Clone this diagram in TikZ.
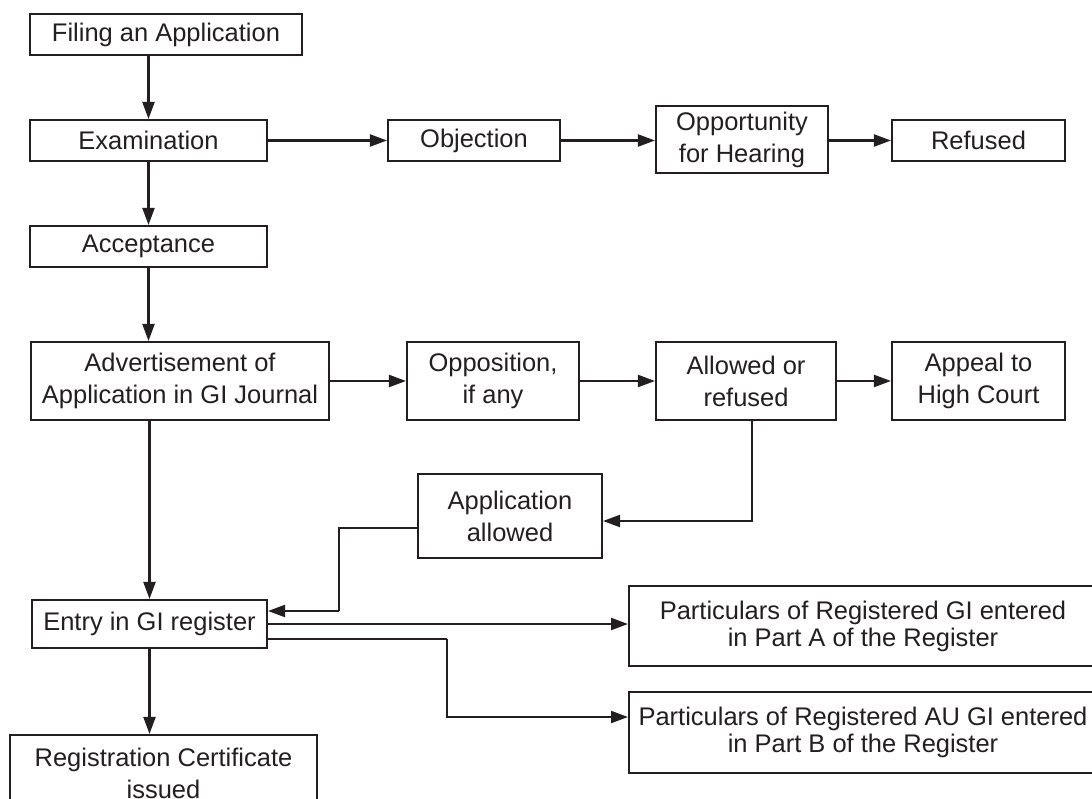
\documentclass[tikz,border=0pt]{standalone}
\usepackage{fontspec}
\setmainfont{Liberation Sans}
\usepackage{tikz}
\usetikzlibrary{arrows.meta}
\usetikzlibrary{positioning}
\usetikzlibrary{calc}
\definecolor{ink}{HTML}{231F20}
\tikzset{
	box/.style={draw=ink, text=ink, line width=1.2pt, align=center, inner sep=0pt, font=\fontsize{14.5}{18.2}\selectfont},
	wide/.style={box, font=\fontsize{14.5}{15.4}\selectfont},
	arr/.style={draw=ink, line width=1.2pt, -{Triangle[length=0.34cm, width=0.24cm]}},
	lin/.style={draw=ink, line width=1.2pt}
}

\begin{document}
\begin{tikzpicture}[x=0.02cm, y=-0.02cm]
	\useasboundingbox (0,0) rectangle (1092,798);
	\node[box, minimum width=5.44cm, minimum height=0.82cm] (filing) at (166,34.5) {Filing an Application};
	\node[box, minimum width=4.74cm, minimum height=0.82cm] (exam) at (148.5,140.5) {Examination};
	\node[box, minimum width=3.44cm, minimum height=0.82cm] (objection) at (474,140.5) {Objection};
	\node[box, minimum width=3.44cm, minimum height=1.34cm] (hearing) at (742,139.5) {Opportunity\\for Hearing};
	\node[box, minimum width=3.46cm, minimum height=0.82cm] (refused) at (978.5,140.5) {Refused};
	\node[box, minimum width=4.74cm, minimum height=0.82cm] (accept) at (148.5,246.5) {Acceptance};
	\node[box, minimum width=5.96cm, minimum height=1.56cm] (advert) at (180,381) {Advertisement of\\Application in GI Journal};
	\node[box, minimum width=3.44cm, minimum height=1.56cm] (opposition) at (493,381) {Opposition,\\if any};
	\node[box, minimum width=3.6cm, minimum height=1.56cm] (allowed) at (746,381) {Allowed or\\refused};
	\node[box, minimum width=3.46cm, minimum height=1.56cm] (appeal) at (978.5,381) {Appeal to\\High Court};
	\node[box, minimum width=3.68cm, minimum height=1.68cm] (appallowed) at (510,516) {Application\\allowed};
	\node[box, minimum width=4.7cm, minimum height=0.96cm] (entry) at (149.5,624) {Entry in GI register};
	\node[wide, minimum width=9.36cm, minimum height=1.6cm] (parta) at (863,626) {Particulars of Registered GI entered\\in Part A of the Register};
	\node[wide, minimum width=9.36cm, minimum height=1.62cm] (partb) at (863,732.5) {Particulars of Registered AU GI entered\\in Part B of the Register};
	\node[box, minimum width=6.14cm, minimum height=1.52cm] (certif) at (163.5,773) {Registration Certificate\\issued};
	\coordinate (back) at (339,611);
	\coordinate (split) at (447,639);
	\draw[arr] (filing.south -| exam.north) -- (exam.north);
	\draw[arr] (exam.south) -- (accept.north);
	\draw[arr] (accept.south) -- (accept.south |- advert.north);
	\draw[arr] (advert.south -| entry.north) -- (entry.north);
	\draw[arr] (entry.south) -- (entry.south |- certif.north);
	\draw[arr] (exam.east) -- (objection.west);
	\draw[arr] (objection.east) -- (objection.east -| hearing.west);
	\draw[arr] (refused.west -| hearing.east) -- (refused.west);
	\draw[arr] (advert.east) -- (opposition.west);
	\draw[arr] (opposition.east) -- (allowed.west);
	\draw[arr] (allowed.east) -- (appeal.west);
	\draw[arr] ([xshift=0.12cm]allowed.south) |- ([yshift=-0.1cm]appallowed.east);
	\draw[lin] ([yshift=-0.24cm]appallowed.west) -| (back);
	\draw[arr] (back) -- (back -| entry.east);
	\draw[arr] (entry.east) -- (entry.east -| parta.west);
	\draw[lin] (split -| entry.east) -- (split);
	\draw[arr] (split) |- ([yshift=0.31cm]partb.west);
\end{tikzpicture}
\end{document}
